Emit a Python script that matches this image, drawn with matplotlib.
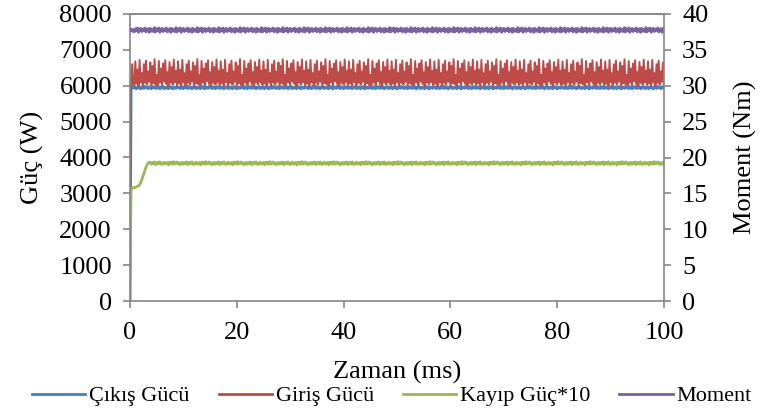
import numpy as np
import matplotlib
matplotlib.use("Agg")
import matplotlib.pyplot as plt

plt.rcParams["font.family"] = ["Liberation Serif", "DejaVu Serif"]

# Sample times (ms)
dt = 0.2
time_ms = np.round(np.arange(0, 100 + dt / 2, dt), 2)

# Steady-state levels
cikis_level = 5950      # W
kayip_level = 3840      # W (loss x10)
moment_level = 37.75    # Nm

# Start-up samples (first points of each series)
cikis_start = [0, 5960, 5940, 5980]
giris_start = [0, 6050, 6600, 6010]
kayip_start = [700, 3100, 3150, 3160, 3150, 3170, 3180, 3200, 3210, 3240,
               3300, 3380, 3470, 3560, 3650, 3730, 3800, 3850, 3870, 3860]
moment_start = [37.7, 37.9, 37.6, 37.8]

# Ripple samples around the steady levels
cikis_ripple = [-20, 25, -35, 10, 30, -15, -40, 20, 5, -25, 35, -10, 15, -30, 25,
                -5, -35, 30, 10, -20, 40, -25, 0, 20, -40, 15, -10, 30, -30, 5]
giris_ripple = [6020, 6680, 6060, 6450, 5990, 6720, 6100, 6350, 6000, 6600,
                6080, 6700, 6030, 6400, 6110, 6650, 5980, 6550, 6070, 6740,
                6040, 6300, 6000, 6690, 6090, 6480, 6010, 6620, 6120, 6710,
                6050, 6380, 5990, 6660, 6080, 6520, 6030, 6730, 6100, 6420]
kayip_ripple = [-30, 20, -10, 35, -40, 15, 25, -20, 40, -5, -35, 10, 30, -25, 5,
                20, -45, 30, -15, 25, -30, 45, -10, 0, 35, -20, 15, -40, 10, 25]
moment_ripple = [-0.25, 0.20, -0.10, 0.30, -0.30, 0.10, 0.25, -0.20, 0.15, -0.05,
                 0.30, -0.25, 0.05, 0.20, -0.30, 0.25, -0.15, 0.10, -0.20, 0.35]


def build(start, level, ripple):
    n_rest = len(time_ms) - len(start)
    rest = level + np.resize(np.array(ripple, dtype=float), n_rest)
    return np.concatenate([np.array(start, dtype=float), rest])


cikis = build(cikis_start, cikis_level, cikis_ripple)
giris = build(giris_start, 0, giris_ripple)
kayip = build(kayip_start, kayip_level, kayip_ripple)
moment = build(moment_start, moment_level, moment_ripple)

col_blue = "#4a7ebb"
col_red = "#be4b48"
col_green = "#98b954"
col_purple = "#7d60a0"
grey = "#868686"

fig = plt.figure(figsize=(7.63, 4.16), dpi=100)
ax = fig.add_axes([130 / 763, 1 - 301 / 416, 534 / 763, 287 / 416])
ax2 = ax.twinx()

l1, = ax.plot(time_ms, cikis, color=col_blue, lw=2.0, label="Çıkış Gücü")
l2, = ax.plot(time_ms, giris, color=col_red, lw=1.4, label="Giriş Gücü")
l3, = ax.plot(time_ms, kayip, color=col_green, lw=2.0, label="Kayıp Güç*10")
l4, = ax2.plot(time_ms, moment, color=col_purple, lw=2.0, label="Moment")

ax.set_xlim(0, 100)
ax.set_ylim(0, 8000)
ax2.set_ylim(0, 40)
ax.set_xticks(range(0, 101, 20))
ax.set_yticks(range(0, 8001, 1000))
ax2.set_yticks(range(0, 41, 5))

fs = 19
for a in (ax, ax2):
    for s in a.spines.values():
        s.set_color(grey)
        s.set_linewidth(1.2)
    a.tick_params(direction="out", length=5, width=1.2, color=grey,
                  labelsize=fs, pad=8)
ax.tick_params(axis="x", pad=10)
ax.spines["right"].set_visible(False)
ax2.spines["left"].set_visible(False)
ax2.spines["bottom"].set_visible(False)

ax.set_xlabel("Zaman (ms)", fontsize=fs, labelpad=12)
ax.set_ylabel("Güç (W)", fontsize=fs, labelpad=11)
ax2.set_ylabel("Moment (Nm)", fontsize=fs, labelpad=18)

leg = fig.legend(handles=[l1, l2, l3, l4], loc="center",
                 bbox_to_anchor=(392 / 763, 1 - 396 / 416),
                 ncol=4, frameon=False, fontsize=16, handlelength=2.4,
                 handletextpad=0.18, columnspacing=1.3, borderaxespad=0)
for h in leg.legend_handles:
    h.set_linewidth(2.0)

fig.savefig("out.png", dpi=100)
